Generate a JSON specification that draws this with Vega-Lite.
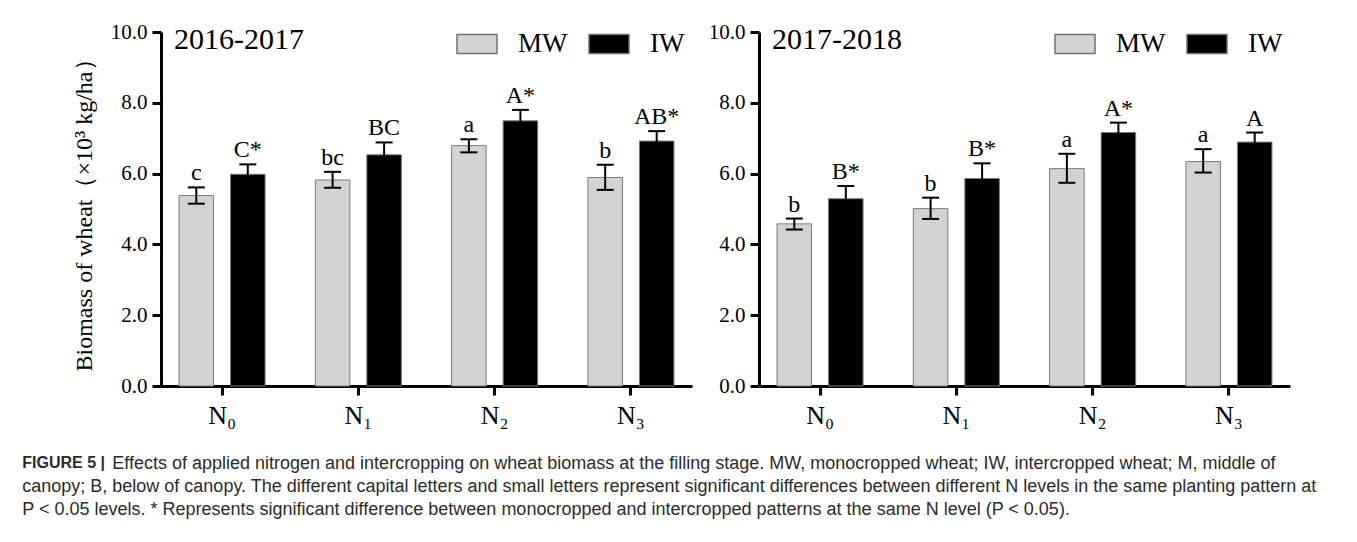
{
  "$schema": "https://vega.github.io/schema/vega-lite/v6.json",
  "background": "white",
  "padding": {"left": 22, "top": 21, "right": 5, "bottom": 5},
  "data": {
    "values": [
      {"year": "2016-2017", "N": "N₀", "pattern": "MW", "mean": 5.38, "lo": 5.15, "hi": 5.61, "label": "c"},
      {"year": "2016-2017", "N": "N₀", "pattern": "IW", "mean": 5.98, "lo": 5.70, "hi": 6.26, "label": "C*"},
      {"year": "2016-2017", "N": "N₁", "pattern": "MW", "mean": 5.82, "lo": 5.60, "hi": 6.05, "label": "bc"},
      {"year": "2016-2017", "N": "N₁", "pattern": "IW", "mean": 6.53, "lo": 6.18, "hi": 6.88, "label": "BC"},
      {"year": "2016-2017", "N": "N₂", "pattern": "MW", "mean": 6.79, "lo": 6.60, "hi": 6.97, "label": "a"},
      {"year": "2016-2017", "N": "N₂", "pattern": "IW", "mean": 7.49, "lo": 7.18, "hi": 7.80, "label": "A*"},
      {"year": "2016-2017", "N": "N₃", "pattern": "MW", "mean": 5.89, "lo": 5.54, "hi": 6.25, "label": "b"},
      {"year": "2016-2017", "N": "N₃", "pattern": "IW", "mean": 6.92, "lo": 6.64, "hi": 7.20, "label": "AB*"},
      {"year": "2017-2018", "N": "N₀", "pattern": "MW", "mean": 4.58, "lo": 4.42, "hi": 4.73, "label": "b"},
      {"year": "2017-2018", "N": "N₀", "pattern": "IW", "mean": 5.29, "lo": 4.93, "hi": 5.65, "label": "B*"},
      {"year": "2017-2018", "N": "N₁", "pattern": "MW", "mean": 5.01, "lo": 4.72, "hi": 5.32, "label": "b"},
      {"year": "2017-2018", "N": "N₁", "pattern": "IW", "mean": 5.86, "lo": 5.43, "hi": 6.29, "label": "B*"},
      {"year": "2017-2018", "N": "N₂", "pattern": "MW", "mean": 6.14, "lo": 5.74, "hi": 6.56, "label": "a"},
      {"year": "2017-2018", "N": "N₂", "pattern": "IW", "mean": 7.16, "lo": 6.88, "hi": 7.44, "label": "A*"},
      {"year": "2017-2018", "N": "N₃", "pattern": "MW", "mean": 6.34, "lo": 6.03, "hi": 6.69, "label": "a"},
      {"year": "2017-2018", "N": "N₃", "pattern": "IW", "mean": 6.89, "lo": 6.62, "hi": 7.16, "label": "A"}
    ]
  },
  "title": {
    "text": "FIGURE 5 |",
    "subtitle": [
      "\u200b\u00a0\u00a0\u00a0\u00a0\u00a0\u00a0\u00a0\u00a0\u00a0\u00a0\u00a0\u00a0\u00a0\u00a0\u00a0\u00a0\u00a0\u00a0Effects of applied nitrogen and intercropping on wheat biomass at the filling stage. MW, monocropped wheat; IW, intercropped wheat; M, middle of",
      "canopy; B, below of canopy. The different capital letters and small letters represent significant differences between different N levels in the same planting pattern at",
      "P < 0.05 levels. * Represents significant difference between monocropped and intercropped patterns at the same N level (P < 0.05)."
    ],
    "orient": "bottom",
    "anchor": "start",
    "frame": "bounds",
    "offset": 27,
    "dx": -50,
    "font": "Liberation Sans",
    "fontSize": 16,
    "fontWeight": "bold",
    "color": "#2b2b2b",
    "subtitleFont": "Liberation Sans",
    "subtitleFontSize": 18,
    "subtitleFontWeight": "normal",
    "subtitleColor": "#2b2b2b",
    "subtitleLineHeight": 23,
    "subtitlePadding": -16
  },
  "spacing": 16,
  "resolve": {"legend": {"color": "independent"}},
  "hconcat": [
    {
      "width": 531,
      "height": 354,
      "title": {"text": "2016-2017", "anchor": "start", "frame": "group", "offset": -34, "dx": 13},
      "transform": [{"filter": "datum.year === '2016-2017'"}],
      "encoding": {
        "x": {"field": "N", "type": "nominal", "sort": ["N₀", "N₁", "N₂", "N₃"], "scale": {"paddingInner": 0.2, "paddingOuter": 0.048}, "axis": {"title": null, "labelAngle": 0}},
        "xOffset": {"field": "pattern", "type": "nominal", "sort": ["MW", "IW"], "scale": {"paddingInner": 0.33, "paddingOuter": 0.2235}}
      },
      "layer": [
        {
          "mark": {"type": "bar", "stroke": "#7a7a7a", "strokeWidth": 1},
          "encoding": {
            "y": {"field": "mean", "type": "quantitative", "scale": {"domain": [0, 10], "nice": false}, "axis": {"title": "Biomass of wheat（×10³ kg/ha）", "titleFontSize": 24, "titlePadding": 14, "values": [0, 2, 4, 6, 8, 10], "format": ".1f"}},
            "color": {"field": "pattern", "type": "nominal", "scale": {"domain": ["MW", "IW"], "range": ["#d3d3d3", "#000000"]}, "legend": {"orient": "none", "legendX": 295, "legendY": -9, "direction": "horizontal", "title": null, "symbolType": "M-1,-0.475H1V0.475H-1Z", "symbolSize": 1600, "labelFontSize": 27, "labelOffset": 20, "columnPadding": 18, "symbolStrokeColor": "#707070", "symbolStrokeWidth": 1.5, "padding": 0}}
          }
        },
        {
          "mark": {"type": "rule", "strokeWidth": 2, "color": "black"},
          "encoding": {"y": {"field": "lo", "type": "quantitative"}, "y2": {"field": "hi"}}
        },
        {
          "mark": {"type": "tick", "orient": "horizontal", "size": 17, "thickness": 2, "color": "black", "opacity": 1},
          "encoding": {"y": {"field": "hi", "type": "quantitative"}}
        },
        {
          "mark": {"type": "tick", "orient": "horizontal", "size": 17, "thickness": 2, "color": "black", "opacity": 1},
          "encoding": {"y": {"field": "lo", "type": "quantitative"}}
        },
        {
          "mark": {"type": "text", "align": "center", "baseline": "alphabetic", "dy": -7, "fontSize": 24, "color": "black"},
          "encoding": {"y": {"field": "hi", "type": "quantitative"}, "text": {"field": "label"}}
        }
      ]
    },
    {
      "width": 531,
      "height": 354,
      "title": {"text": "2017-2018", "anchor": "start", "frame": "group", "offset": -34, "dx": 13},
      "transform": [{"filter": "datum.year === '2017-2018'"}],
      "encoding": {
        "x": {"field": "N", "type": "nominal", "sort": ["N₀", "N₁", "N₂", "N₃"], "scale": {"paddingInner": 0.2, "paddingOuter": 0.048}, "axis": {"title": null, "labelAngle": 0}},
        "xOffset": {"field": "pattern", "type": "nominal", "sort": ["MW", "IW"], "scale": {"paddingInner": 0.33, "paddingOuter": 0.2235}}
      },
      "layer": [
        {
          "mark": {"type": "bar", "stroke": "#7a7a7a", "strokeWidth": 1},
          "encoding": {
            "y": {"field": "mean", "type": "quantitative", "scale": {"domain": [0, 10], "nice": false}, "axis": {"title": null, "values": [0, 2, 4, 6, 8, 10], "format": ".1f"}},
            "color": {"field": "pattern", "type": "nominal", "scale": {"domain": ["MW", "IW"], "range": ["#d3d3d3", "#000000"]}, "legend": {"orient": "none", "legendX": 295, "legendY": -9, "direction": "horizontal", "title": null, "symbolType": "M-1,-0.475H1V0.475H-1Z", "symbolSize": 1600, "labelFontSize": 27, "labelOffset": 20, "columnPadding": 18, "symbolStrokeColor": "#707070", "symbolStrokeWidth": 1.5, "padding": 0}}
          }
        },
        {
          "mark": {"type": "rule", "strokeWidth": 2, "color": "black"},
          "encoding": {"y": {"field": "lo", "type": "quantitative"}, "y2": {"field": "hi"}}
        },
        {
          "mark": {"type": "tick", "orient": "horizontal", "size": 17, "thickness": 2, "color": "black", "opacity": 1},
          "encoding": {"y": {"field": "hi", "type": "quantitative"}}
        },
        {
          "mark": {"type": "tick", "orient": "horizontal", "size": 17, "thickness": 2, "color": "black", "opacity": 1},
          "encoding": {"y": {"field": "lo", "type": "quantitative"}}
        },
        {
          "mark": {"type": "text", "align": "center", "baseline": "alphabetic", "dy": -7, "fontSize": 24, "color": "black"},
          "encoding": {"y": {"field": "hi", "type": "quantitative"}, "text": {"field": "label"}}
        }
      ]
    }
  ],
  "config": {
    "font": "Liberation Serif",
    "view": {"stroke": null},
    "title": {"font": "Liberation Serif", "fontSize": 30, "fontWeight": "normal", "color": "black", "baseline": "alphabetic"},
    "axis": {"domainColor": "black", "domainWidth": 3, "tickColor": "black", "tickWidth": 3, "tickSize": 9, "labelFont": "Liberation Serif", "labelColor": "black", "labelFontSize": 21, "labelPadding": 5, "grid": false, "titleFont": "Liberation Serif", "titleFontWeight": "normal", "titleColor": "black"},
    "axisX": {"labelFontSize": 26, "labelPadding": 7},
    "legend": {"labelFont": "Liberation Serif", "labelColor": "black"}
  }
}
